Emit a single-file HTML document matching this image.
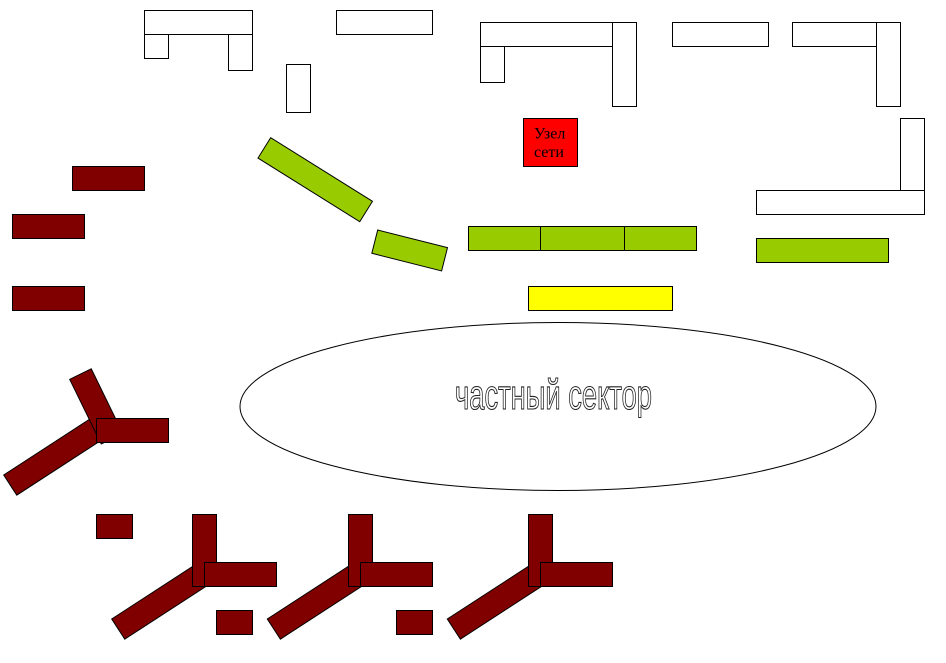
<!DOCTYPE html>
<html>
<head>
<meta charset="utf-8">
<style>
html,body{margin:0;padding:0;background:#fff;}
svg{display:block;}
</style>
</head>
<body>
<svg width="946" height="663" viewBox="0 0 946 663" xmlns="http://www.w3.org/2000/svg">
<rect x="0" y="0" width="946" height="663" fill="#fff"/>
<g stroke="#000" stroke-width="1" fill="#fff">
  <rect x="144.5" y="10.5" width="108" height="24"/>
  <rect x="144.5" y="34.5" width="24" height="24"/>
  <rect x="228.5" y="34.5" width="24" height="36"/>
  <rect x="336.5" y="10.5" width="96" height="24"/>
  <rect x="286.5" y="64.5" width="24" height="48"/>
  <rect x="480.5" y="22.5" width="132" height="24"/>
  <rect x="480.5" y="46.5" width="24" height="36"/>
  <rect x="612.5" y="22.5" width="24" height="84"/>
  <rect x="672.5" y="22.5" width="96" height="24"/>
  <rect x="792.5" y="22.5" width="84" height="24"/>
  <rect x="876.5" y="22.5" width="24" height="84"/>
  <rect x="900.5" y="118.5" width="24" height="72"/>
  <rect x="756.5" y="190.5" width="168" height="24"/>
</g>

<rect x="523.5" y="118.5" width="54" height="48" fill="#ff0000" stroke="#000" stroke-width="1"/>
<text x="534" y="138.5" font-family="'Liberation Serif', serif" font-size="16" fill="#000">Узел</text>
<text x="534" y="157" font-family="'Liberation Serif', serif" font-size="16" fill="#000">сети</text>

<g stroke="#000" stroke-width="1" fill="#99cc00">
  <g transform="translate(270.7,137.7) rotate(32)"><rect x="0" y="0" width="120" height="24"/></g>
  <g transform="translate(377.7,230) rotate(14.2)"><rect x="0" y="0" width="72" height="24"/></g>
  <rect x="468.5" y="226.5" width="72" height="24"/>
  <rect x="540.5" y="226.5" width="84" height="24"/>
  <rect x="624.5" y="226.5" width="72" height="24"/>
  <rect x="756.5" y="238.5" width="132" height="24"/>
</g>

<rect x="528.5" y="286.5" width="144" height="24" fill="#ffff00" stroke="#000" stroke-width="1"/>

<ellipse cx="558" cy="406.5" rx="318" ry="84" fill="#fff" stroke="#000" stroke-width="1"/>
<text x="455" y="409" font-family="'Liberation Sans', 'DejaVu Sans', sans-serif" font-size="41.5" textLength="197" lengthAdjust="spacingAndGlyphs" fill="#fff" stroke="#222" stroke-width="1.1">частный сектор</text>

<g stroke="#000" stroke-width="1" fill="#800000">
  <rect x="72.5" y="166.5" width="72" height="24"/>
  <rect x="12.5" y="214.5" width="72" height="24"/>
  <rect x="12.5" y="286.5" width="72" height="24"/>

  <g transform="translate(3.7,475) rotate(-33)"><rect x="0" y="0" width="110" height="24"/></g>
  <g transform="translate(69.7,379.3) rotate(-26)"><rect x="0" y="0" width="24" height="72"/></g>
  <rect x="96.5" y="418.5" width="72" height="24"/>

  <rect x="96.5" y="514.5" width="36" height="24"/>

  <g transform="translate(111.7,619) rotate(-33)"><rect x="0" y="0" width="110" height="24"/></g>
  <rect x="192.5" y="514.5" width="24" height="72"/>
  <rect x="204.5" y="562.5" width="72" height="24"/>
  <rect x="216.5" y="610.5" width="36" height="24"/>

  <g transform="translate(267.3,619) rotate(-33)"><rect x="0" y="0" width="110" height="24"/></g>
  <rect x="348.5" y="514.5" width="24" height="72"/>
  <rect x="360.5" y="562.5" width="72" height="24"/>
  <rect x="396.5" y="610.5" width="36" height="24"/>

  <g transform="translate(447.3,619) rotate(-33)"><rect x="0" y="0" width="110" height="24"/></g>
  <rect x="528.5" y="514.5" width="24" height="72"/>
  <rect x="540.5" y="562.5" width="72" height="24"/>
</g>
</svg>
</body>
</html>
